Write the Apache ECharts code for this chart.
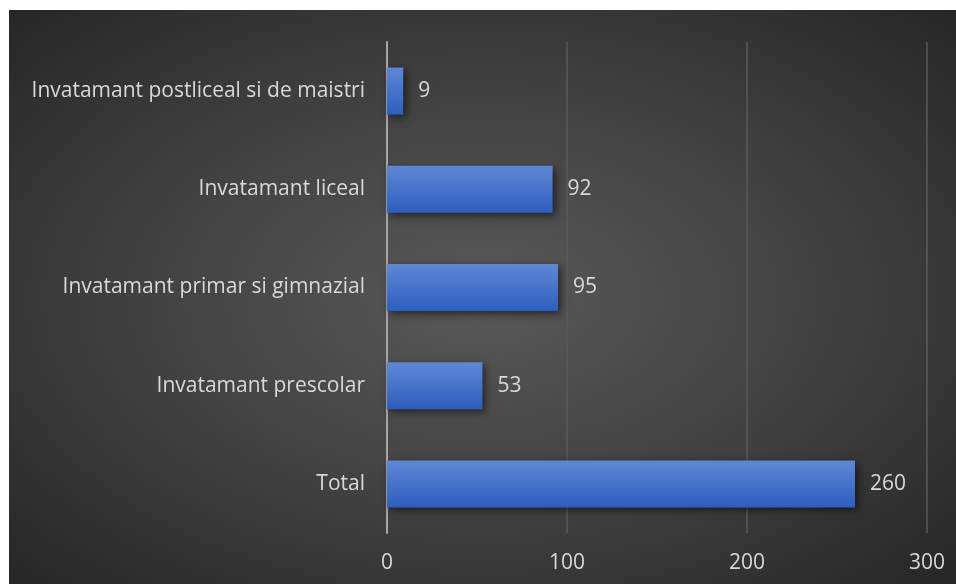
<!DOCTYPE html>
<html>
<head>
<meta charset="utf-8">
<script src="https://cdn.jsdelivr.net/npm/echarts@6/dist/echarts.min.js"></script>
<style>
    html, body { margin: 0; padding: 0; background: #fff; }
    #box {
        position: absolute; left: 9px; top: 10px; width: 947px; height: 574px;
        background: radial-gradient(ellipse at 50% 50%, #595959 0%, #3f3f3f 55%, #262626 100%);
    }
</style>
</head>
<body>
<div id="box"></div>
<script>
var categories = ['Total', 'Invatamant prescolar', 'Invatamant primar si gimnazial', 'Invatamant liceal', 'Invatamant postliceal si de maistri'];
var values = [260, 53, 95, 92, 9];
var xTicks = [0, 100, 200, 300];

var myChart = echarts.init(document.getElementById('box'));
var font = 'Open Sans';
var option = {
    backgroundColor: 'transparent',
    animation: false,
    grid: {left: 378, right: 29, top: 32, bottom: 51, containLabel: false},
    xAxis: {
        type: 'value',
        min: xTicks[0],
        max: xTicks[xTicks.length - 1],
        interval: 100,
        axisLine: {show: false},
        axisTick: {show: false},
        axisLabel: {color: '#d9d9d9', fontFamily: font, fontSize: 21, margin: 20},
        splitLine: {lineStyle: {color: '#5a5a5a', width: 1.5}}
    },
    yAxis: {
        type: 'category',
        data: categories,
        axisLine: {show: true, lineStyle: {color: '#a6a6a6', width: 2}},
        axisTick: {show: false},
        axisLabel: {color: '#d9d9d9', fontFamily: font, fontSize: 21, margin: 22}
    },
    series: [{
        type: 'bar',
        data: values,
        barWidth: 47,
        label: {
            show: true,
            position: 'right',
            distance: 15,
            color: '#d9d9d9',
            fontFamily: font,
            fontSize: 21
        },
        itemStyle: {
            color: new echarts.graphic.LinearGradient(0, 0, 0, 1, [
                {offset: 0, color: '#5f87d4'},
                {offset: 1, color: '#2d5ebf'}
            ]),
            shadowColor: 'rgba(0,0,0,0.55)',
            shadowBlur: 8,
            shadowOffsetX: 3,
            shadowOffsetY: 3
        }
    }]
};
myChart.setOption(option);
</script>
</body>
</html>
